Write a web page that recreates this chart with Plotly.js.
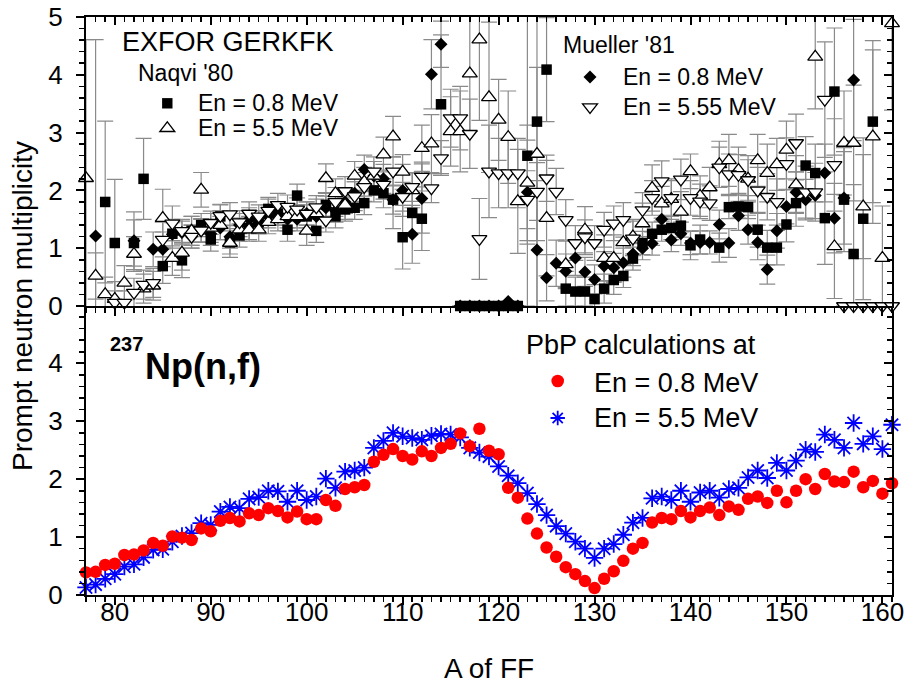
<!DOCTYPE html>
<html>
<head>
<meta charset="utf-8">
<script src="https://cdn.plot.ly/plotly-3.0.1.min.js"></script>
<style>html,body{margin:0;padding:0;background:#fff;}#chart{width:909px;height:689px;}</style>
</head>
<body>
<div id="chart"></div>
<script>
// ---------- Bottom panel: PbP calculations ----------
const A_pbp = [77,78,79,80,81,82,83,84,85,86,87,88,89,90,91,92,93,94,95,96,97,98,99,100,101,102,103,104,105,106,107,108,109,110,111,112,113,114,115,116,117,118,119,120,121,122,123,124,125,126,127,128,129,130,131,132,133,134,135,136,137,138,139,140,141,142,143,144,145,146,147,148,149,150,151,152,153,154,155,156,157,158,159,160,161];
const pbp08 = [0.39,0.40,0.52,0.54,0.69,0.70,0.77,0.90,0.85,1.01,0.99,0.95,1.15,1.10,1.28,1.33,1.27,1.41,1.38,1.50,1.45,1.34,1.44,1.31,1.31,1.64,1.54,1.83,1.86,1.90,2.30,2.42,2.52,2.40,2.34,2.48,2.40,2.54,2.61,2.79,2.57,2.87,2.49,2.43,1.85,1.68,1.32,1.06,0.82,0.66,0.48,0.36,0.24,0.12,0.28,0.41,0.59,0.80,0.90,1.25,1.33,1.31,1.45,1.34,1.45,1.51,1.38,1.53,1.47,1.66,1.70,1.59,1.80,1.60,1.80,2.00,1.83,2.09,1.96,1.95,2.13,1.86,1.97,1.75,1.93];
const pbp55 = [0.13,0.18,0.28,0.36,0.49,0.53,0.65,0.78,0.79,0.92,1.02,1.07,1.24,1.21,1.44,1.52,1.50,1.66,1.69,1.80,1.79,1.61,1.80,1.64,1.70,2.01,1.85,2.13,2.15,2.20,2.54,2.66,2.80,2.74,2.71,2.68,2.75,2.78,2.77,2.72,2.54,2.46,2.39,2.22,2.06,1.93,1.76,1.57,1.38,1.19,1.06,0.92,0.80,0.64,0.80,0.88,1.04,1.25,1.33,1.67,1.70,1.64,1.80,1.61,1.77,1.80,1.68,1.83,1.85,2.03,2.15,2.02,2.28,2.15,2.32,2.51,2.47,2.77,2.68,2.54,2.97,2.61,2.74,2.52,2.94];

// ---------- Top panel: EXFOR GERKFK ----------
// Naqvi '80, En = 0.8 MeV (filled squares)
const A_naqvi08 = [79,80,82,83,85,86,87,88,89,90,91,92,93,94,95,96,97,98,99,100,101,102,103,104,105,106,107,108,109,110,111,112,114,116,117,118,119,120,121,122,123,124,125,127,128,129,130,131,132,133,134,135,136,137,138,139,140,141,143,144,145,146,147,148,149,150,151,152,153,154,155,156,157,158,159];
const nu_naqvi08 = [1.80,1.09,1.09,2.20,0.69,1.25,0.79,1.30,1.40,1.15,1.55,1.10,1.22,1.35,1.45,1.68,1.60,1.32,1.91,1.55,1.30,1.75,1.55,1.67,1.70,1.78,2.00,1.95,1.84,1.19,1.61,1.51,3.49,0,0,0,0,0,0,0,2.60,3.19,4.09,0.30,0.25,0.25,0.12,0.30,0.45,0.52,0.82,1.09,1.25,1.32,1.35,1.39,1.05,1.15,1.01,1.71,1.72,1.71,1.32,1.01,1.01,1.41,1.78,2.43,2.30,1.52,3.71,1.84,0.90,1.51,3.19];
const err_naqvi08 = [1.40,1.10,0.40,0.70,0.30,0.25,0.30,0.25,0.20,0.20,0.20,0.20,0.20,0.20,0.20,0.20,0.20,0.20,0.20,0.20,0.20,0.20,0.20,0.20,0.20,0.20,0.20,0.25,0.25,0.55,0.35,0.55,1.20,0,0,0,0,0,0,0,2.60,3.20,0.90,0.30,0.25,0.25,0.25,0.25,0.25,0.20,0.20,0.20,0.20,0.20,0.20,0.20,0.25,0.25,0.25,0.20,0.20,0.20,0.30,0.30,0.30,0.30,0.40,0.50,0.50,0.80,1.10,0.90,1.20,1.40,1.40];

// Naqvi '80, En = 5.5 MeV (open up-triangles)
const A_naqvi55 = [77,78,79,80,81,82,83,84,85,86,87,88,89,90,91,92,93,94,95,96,97,98,99,100,101,102,103,104,105,106,107,108,109,110,111,112,113,115,116,117,118,119,120,121,122,123,124,125,127,129,131,132,133,134,135,136,137,138,139,140,141,142,143,144,145,146,147,148,149,150,151,153,155,156,157,158,159,160,161];
const nu_naqvi55 = [2.21,0.52,0.20,0.12,0.40,0.90,0.30,0.35,1.52,0.83,0.92,1.30,2.01,1.35,1.40,1.09,1.32,1.32,1.32,1.45,1.50,1.55,1.55,1.30,1.60,2.21,1.95,1.75,2.25,2.15,2.25,2.62,2.93,2.32,2.00,2.73,2.81,3.02,3.02,4.02,4.61,3.61,3.22,2.92,1.81,2.13,2.63,1.52,0.72,1.32,0.83,0.83,1.10,1.20,1.43,2.04,1.77,1.85,1.63,2.33,1.90,2.05,2.45,2.52,2.35,2.20,2.52,2.30,2.45,2.70,2.10,4.31,1.03,2.82,2.82,1.72,2.93,0.83,4.89];
const err_naqvi55 = [2.40,0.40,0.30,0.30,0.30,0.30,0.25,0.25,0.50,0.30,0.30,0.25,0.30,0.25,0.25,0.25,0.20,0.20,0.20,0.20,0.20,0.20,0.20,0.25,0.25,0.25,0.25,0.25,0.25,0.25,0.25,0.30,0.35,0.30,0.30,0.40,0.50,0.60,0.70,1.00,1.40,1.30,0.70,0.80,0.90,1.00,1.50,1.00,0.40,0.40,0.40,0.40,0.35,0.30,0.35,0.40,0.30,0.35,0.35,0.30,0.35,0.35,0.40,0.45,0.40,0.40,0.45,0.50,0.45,0.50,0.50,0.90,0.90,0.90,1.00,0.90,1.50,0.90,1.50];

// Mueller '81, En = 0.8 MeV (filled diamonds)
const A_mueller08 = [78,82,84,85,86,87,88,89,90,91,92,93,94,95,96,97,98,99,100,101,102,103,104,105,106,107,108,109,110,111,112,113,114,116,117,118,119,120,121,122,123,124,125,126,127,128,129,130,131,132,133,134,135,136,137,138,139,140,141,142,143,144,145,146,147,148,149,150,151,152,153,154,155,156,157];
const nu_mueller08 = [1.21,1.13,0.98,0.98,1.24,1.27,1.20,1.30,1.25,1.35,1.20,1.40,1.50,1.45,1.55,1.60,1.50,1.50,1.60,1.55,1.70,1.65,1.80,1.95,2.36,2.25,2.20,1.84,2.00,1.24,1.86,4.01,4.53,0,0,0,0,0,0.08,0,1.97,0.97,0.49,0.74,0.60,0.83,0.59,0.46,0.69,0.66,0.75,0.90,1.00,1.08,1.50,1.14,1.25,1.09,1.10,1.10,1.41,1.09,1.56,1.32,1.10,0.63,1.30,1.72,1.97,1.84,1.91,2.30,1.52,1.87,3.91];
const err_mueller08 = [3.40,0.50,0.30,0.30,0.20,0.20,0.20,0.20,0.20,0.20,0.20,0.20,0.20,0.20,0.20,0.20,0.20,0.20,0.20,0.20,0.20,0.20,0.20,0.20,0.25,0.25,0.25,0.50,0.45,0.50,0.60,0.60,0.40,0,0,0,0,0,0,0,0.90,1.20,0.40,0.40,0.30,0.30,0.25,0.25,0.25,0.25,0.25,0.20,0.20,0.20,0.25,0.20,0.20,0.20,0.20,0.20,0.25,0.25,0.25,0.25,0.30,0.25,0.30,0.30,0.35,0.35,0.40,0.50,0.60,0.80,1.05];

// Mueller '81, En = 5.55 MeV (open down-triangles)
const A_mueller55 = [80,81,82,83,84,85,86,87,88,89,90,91,92,93,94,95,96,97,98,99,100,101,102,103,104,105,106,107,108,109,110,111,112,113,114,115,116,117,118,119,120,121,122,123,124,125,126,127,128,129,130,131,132,133,134,135,136,137,138,139,140,141,142,143,144,145,146,147,148,149,150,151,152,153,154,155,156,157,158,159,160,161];
const nu_mueller55 = [0.06,0.06,0.23,0.37,0.40,1.15,1.43,1.30,1.20,1.31,1.44,1.56,1.59,1.45,1.60,1.55,1.65,1.75,1.72,1.67,1.60,1.71,1.48,1.80,1.99,1.90,2.06,2.33,2.10,2.33,1.89,2.06,2.24,2.04,2.56,3.25,3.25,2.98,1.16,2.33,2.30,2.30,2.30,1.84,1.98,2.21,1.98,1.49,1.09,1.19,1.09,1.32,1.43,1.49,1.17,1.66,1.87,2.16,1.87,2.19,1.87,1.81,1.78,2.40,2.28,2.27,2.18,2.00,1.89,1.80,2.46,2.82,1.97,1.97,3.57,2.44,0,0,0,0,0,0];
const err_mueller55 = [0.20,0.20,0.25,0.25,0.25,0.30,0.30,0.20,0.20,0.20,0.20,0.20,0.20,0.20,0.20,0.20,0.20,0.20,0.20,0.20,0.20,0.20,0.20,0.25,0.25,0.25,0.25,0.25,0.25,0.25,0.25,0.25,0.25,0.25,0.30,0.50,0.55,0.60,0.70,0.80,0.60,0.60,0.60,0.50,0.50,0.40,0.40,0.35,0.30,0.30,0.30,0.30,0.30,0.30,0.30,0.30,0.30,0.35,0.30,0.35,0.30,0.30,0.30,0.35,0.35,0.35,0.35,0.40,0.40,0.40,0.45,0.50,0.45,0.50,1.00,0.80,0,0,0,0,0,0];

// ---------- styling ----------
const FONT = 'Liberation Sans, Arial, Helvetica, sans-serif';
const ERRCOL = '#8a8a8a';
const XR = [77, 161];

function errTrace(xs, ys, es) {
  return {type:'scatter', mode:'markers', x:xs, y:ys, xaxis:'x2', yaxis:'y2',
    marker:{size:1, color:'rgba(0,0,0,0)'}, hoverinfo:'skip', showlegend:false,
    error_y:{type:'data', array:es, visible:true, color:ERRCOL, thickness:1.2, width:8}};
}
function markTrace(xs, ys, name, marker) {
  return {type:'scatter', mode:'markers', x:xs, y:ys, xaxis:'x2', yaxis:'y2', name:name,
    marker:marker, cliponaxis:false, showlegend:false};
}

const data = [
  errTrace(A_naqvi08, nu_naqvi08, err_naqvi08),
  errTrace(A_mueller08, nu_mueller08, err_mueller08),
  errTrace(A_naqvi55, nu_naqvi55, err_naqvi55),
  errTrace(A_mueller55, nu_mueller55, err_mueller55),
  markTrace(A_naqvi08, nu_naqvi08, "Naqvi '80 En = 0.8 MeV", {symbol:'square', size:10.5, color:'#000', line:{width:0}}),
  markTrace(A_mueller08, nu_mueller08, "Mueller '81 En = 0.8 MeV", {symbol:'diamond', size:10, color:'#000', line:{width:0}}),
  markTrace(A_naqvi55, nu_naqvi55, "Naqvi '80 En = 5.5 MeV", {symbol:'triangle-up', size:13, color:'#fff', line:{width:1.3, color:'#000'}}),
  markTrace(A_mueller55, nu_mueller55, "Mueller '81 En = 5.55 MeV", {symbol:'triangle-down', size:13, color:'#fff', line:{width:1.3, color:'#000'}}),
  {type:'scatter', mode:'markers', x:A_pbp, y:pbp55, xaxis:'x', yaxis:'y', name:'PbP En = 5.5 MeV',
    marker:{symbol:'asterisk-open', size:14.5, color:'#0000ff', line:{width:1.8, color:'#0000ff'}}, cliponaxis:false, showlegend:false},
  {type:'scatter', mode:'markers', x:A_pbp, y:pbp08, xaxis:'x', yaxis:'y', name:'PbP En = 0.8 MeV',
    marker:{symbol:'circle', size:12.5, color:'#ff0000', line:{width:0}}, cliponaxis:false, showlegend:false},
  // empty traces that host the mirrored (inside-tick) frame axes
  {type:'scatter', x:[], y:[], xaxis:'x3', yaxis:'y2', showlegend:false, hoverinfo:'skip'},
  {type:'scatter', x:[], y:[], xaxis:'x', yaxis:'y3', showlegend:false, hoverinfo:'skip'},
  {type:'scatter', x:[], y:[], xaxis:'x2', yaxis:'y4', showlegend:false, hoverinfo:'skip'}
];

const axBase = {showline:true, linecolor:'#000', linewidth:2, showgrid:false, zeroline:false,
  tickcolor:'#000', tickwidth:2, ticklen:8, tickfont:{size:26, family:FONT, color:'#000'}};

function xAx(extra) {
  return Object.assign({}, axBase, {range:XR, tickmode:'linear', tick0:80, dtick:10}, extra);
}
function yAx(extra, rng) {
  return Object.assign({}, axBase, {range:rng, tickmode:'linear', tick0:0, dtick:1}, extra);
}
function minorX(dir) { return {tickmode:'linear', tick0:80, dtick:1, ticks:dir, ticklen:5, tickwidth:1.5, tickcolor:'#000'}; }
function minorY(dir) { return {tickmode:'linear', tick0:0, dtick:0.2, ticks:dir, ticklen:5, tickwidth:1.5, tickcolor:'#000'}; }

function ann(text, x, y, size, extra) {
  return Object.assign({text:text, x:x, y:y, xref:'paper', yref:'paper', xanchor:'left', yanchor:'middle',
    showarrow:false, font:{size:size, family:FONT, color:'#000'}}, extra || {});
}
function px2x(p) { return (p - 86) / 806; }
function px2y(p) { return (595 - p) / 578; }

function symShape(kind, cx, cy, color) {
  const base = {xref:'paper', yref:'paper', xsizemode:'pixel', ysizemode:'pixel', xanchor:px2x(cx), yanchor:px2y(cy)};
  if (kind === 'square') return Object.assign(base, {type:'rect', x0:-5.2, x1:5.2, y0:-5.2, y1:5.2, fillcolor:color, line:{width:0}});
  if (kind === 'circle') return Object.assign(base, {type:'circle', x0:-6.3, x1:6.3, y0:-6.3, y1:6.3, fillcolor:color, line:{width:0}});
  if (kind === 'diamond') return Object.assign(base, {type:'path', path:'M0,6.5 L6.5,0 L0,-6.5 L-6.5,0 Z', fillcolor:color, line:{width:0}});
  if (kind === 'tup') return Object.assign(base, {type:'path', path:'M-7.5,-3.2 L7.5,-3.2 L0,6.5 Z', fillcolor:'#fff', line:{width:1.3, color:color}});
  if (kind === 'tdown') return Object.assign(base, {type:'path', path:'M-7.5,3.2 L7.5,3.2 L0,-6.5 Z', fillcolor:'#fff', line:{width:1.3, color:color}});
  if (kind === 'aster') return Object.assign(base, {type:'path', path:'M-7.2,0 L7.2,0 M0,-7.2 L0,7.2 M-5.1,-5.1 L5.1,5.1 M-5.1,5.1 L5.1,-5.1', line:{width:1.8, color:color}});
}

const layout = {
  width:909, height:689,
  margin:{l:86, r:17, t:17, b:94},
  paper_bgcolor:'#fff', plot_bgcolor:'#fff',
  showlegend:false,
  font:{family:FONT, color:'#000'},
  xaxis: xAx({anchor:'y', domain:[0,1], ticks:'outside', minor:minorX('outside'),
    ticklabelstandoff:-15, title:{text:'A of FF', font:{size:28, family:FONT, color:'#000'}, standoff:32}}),
  xaxis2: xAx({anchor:'y2', domain:[0,1], ticks:'outside', showticklabels:false, minor:minorX('outside')}),
  xaxis3: xAx({anchor:'y2', overlaying:'x2', side:'top', ticks:'inside', showticklabels:false, minor:minorX('inside')}),
  yaxis: yAx({anchor:'x', domain:[0,0.5], ticks:'outside', ticklabelstandoff:8, minor:minorY('outside')}, [0,4.99]),
  yaxis2: yAx({anchor:'x2', domain:[0.5,1], ticks:'outside', ticklabelstandoff:8, minor:minorY('outside')}, [0,5]),
  yaxis3: yAx({anchor:'x', overlaying:'y', side:'right', ticks:'inside', showticklabels:false, minor:minorY('inside')}, [0,4.99]),
  yaxis4: yAx({anchor:'x2', overlaying:'y2', side:'right', ticks:'inside', showticklabels:false, minor:minorY('inside')}, [0,5]),
  annotations: [
    ann('Prompt neutron multiplicity', px2x(22), 0.5, 28, {xanchor:'center', textangle:-90}),
    ann('EXFOR GERKFK', px2x(120), px2y(42), 27),
    ann("Naqvi '80", px2x(136), px2y(73), 23),
    ann('En = 0.8 MeV', px2x(196), px2y(103), 23),
    ann('En = 5.5 MeV', px2x(196), px2y(128), 23),
    ann("Mueller '81", px2x(561), px2y(45), 23),
    ann('En = 0.8 MeV', px2x(621), px2y(77), 23),
    ann('En = 5.55 MeV', px2x(621), px2y(107), 23),
    ann('<b>237</b>', px2x(108), px2y(344), 20),
    ann('<b>Np(n,f)</b>', px2x(143), px2y(366), 36),
    ann('PbP calculations at', px2x(524), px2y(345), 27),
    ann('En = 0.8 MeV', px2x(592), px2y(383), 27),
    ann('En = 5.5 MeV', px2x(592), px2y(418), 27)
  ],
  shapes: [
    symShape('square', 167.3, 103.3, '#000'),
    symShape('tup', 167.3, 128.3, '#000'),
    symShape('diamond', 590, 77, '#000'),
    symShape('tdown', 590, 107, '#000'),
    symShape('circle', 557.7, 381, '#ff0000'),
    symShape('aster', 557.7, 418, '#0000ff')
  ]
};

Plotly.newPlot('chart', data, layout, {staticPlot:true, displayModeBar:false});
</script>
</body>
</html>
